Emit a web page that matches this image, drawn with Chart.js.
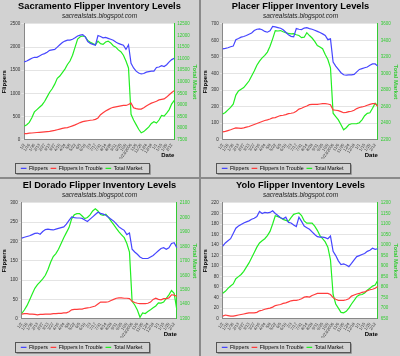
<!DOCTYPE html>
<html><head><meta charset="utf-8">
<script src="https://cdn.jsdelivr.net/npm/chart.js@4/dist/chart.umd.min.js"></script>
<style>
html,body{margin:0;padding:0;background:#8a8a8a;}
body{width:400px;height:356px;position:relative;overflow:hidden;}
.p{position:absolute;width:199px;height:177px;background:#d2d2d2;}
canvas{display:block;}
</style></head><body>
<div class="p" style="left:0;top:0"><canvas id="c0" width="199" height="177"></canvas></div>
<div class="p" style="left:201px;top:0"><canvas id="c1" width="199" height="177"></canvas></div>
<div class="p" style="left:0;top:179px"><canvas id="c2" width="199" height="177"></canvas></div>
<div class="p" style="left:201px;top:179px"><canvas id="c3" width="199" height="177"></canvas></div>
<script>
const dateLabels = ['1/2','1/9','1/16','1/23','1/30','2/6','2/13','2/20','2/27','3/6','3/13','3/20','3/27','4/3','4/10','4/17','4/24','5/1','5/8','5/15','5/22','5/29','6/5','6/12','6/19','6/26','7/3','7/10','7/17','7/24','7/31','8/7','8/14','8/21','8/28','9/4','9/11','9/18','9/25','10/2','10/9','10/16','10/23/2006','10/30','11/6','11/13','11/20','11/27','12/4','12/11','12/18','12/25','1/1','1/8','1/15','1/22','1/29','2/5','2/12','2/19'];
const seriesNames = ['Flippers','Flippers In Trouble','Total Market'];

const sacFlippers = [1680,1700,1730,1760,1780,1780,1810,1840,1860,1890,1930,1940,1950,2000,2050,2100,2130,2150,2150,2170,2200,2240,2260,2270,2220,2120,2080,2060,2040,2250,2230,2200,2210,2190,2170,2150,2110,2080,2060,2040,1950,2050,1650,1550,1480,1440,1420,1430,1460,1470,1480,1480,1560,1570,1600,1580,1620,1680,1730,1760];
const sacTrouble = [130,130,140,145,150,155,160,165,170,175,180,190,200,215,230,245,255,260,280,300,320,345,370,390,400,410,420,425,440,470,540,580,620,650,680,700,710,720,730,740,740,760,790,690,670,660,660,690,730,760,790,810,830,860,870,880,920,970,1020,1060];
const sacMarket = [8080,8150,8250,8450,8700,8800,8900,9000,9150,9350,9550,9700,9900,10150,10250,10400,10550,10750,10900,11150,11500,11850,11950,11980,11950,11780,11710,11650,11600,11760,11650,11620,11720,11760,11680,11560,11500,11380,11300,11150,10900,10600,8600,8350,8150,7950,7800,7850,7950,8050,8200,8280,8220,8350,8550,8520,8650,8800,9050,9200];

const plaFlippers = [549,552,556,562,566,605,612,620,624,630,638,645,660,668,670,665,655,650,658,685,682,678,674,665,650,635,625,622,672,668,666,675,678,672,668,662,655,648,640,630,605,610,470,445,425,405,393,390,392,392,395,410,425,430,435,440,450,458,458,445];
const plaTrouble = [47,50,55,60,66,71,70,69,72,76,80,86,92,98,104,110,116,120,125,132,134,140,146,148,152,158,160,163,172,185,190,198,204,212,214,214,214,216,218,218,216,212,180,178,176,170,163,165,170,172,178,188,195,198,202,208,214,218,218,202];
const plaMarket = [2510,2530,2560,2590,2630,2740,2790,2810,2830,2870,2910,2970,3030,3100,3150,3190,3220,3260,3330,3420,3520,3515,3520,3505,3495,3485,3480,3482,3470,3460,3435,3440,3495,3460,3430,3390,3340,3320,3300,3230,3170,3070,2520,2480,2440,2380,2320,2345,2380,2393,2393,2395,2405,2440,2490,2519,2525,2580,2640,2610];

const eldFlippers = [209,211,213,215,218,221,222,219,226,231,232,231,230,232,234,236,238,245,255,264,262,261,261,260,256,252,258,264,270,276,273,271,268,263,258,253,246,238,233,229,218,222,180,173,167,160,156,156,156,160,164,170,176,182,184,180,184,195,197,184];
const eldTrouble = [12,13,13,12,12,11,10,11,11,12,12,12,13,13,14,14,15,15,18,23,24,24,25,25,27,28,29,31,33,38,43,43,43,44,47,50,53,54,54,53,53,52,45,42,40,39,39,39,40,43,50,53,50,49,52,52,54,62,61,58];
const eldMarket = [1336,1360,1390,1430,1470,1510,1535,1555,1575,1600,1640,1690,1730,1750,1780,1820,1860,1895,1930,1990,2018,2026,2026,2010,1992,2000,2018,2045,2060,2045,2020,2015,2022,2000,1975,1950,1925,1900,1880,1860,1820,1760,1420,1395,1360,1310,1340,1336,1350,1362,1375,1388,1410,1408,1415,1440,1465,1495,1475,1363];

const yolFlippers = [138,144,148,152,162,172,176,179,182,184,186,189,191,194,204,200,202,201,202,205,200,196,192,190,193,183,182,178,175,193,185,176,173,170,165,160,156,155,155,154,152,157,128,120,110,103,104,102,99,105,112,118,120,122,124,128,130,134,132,133];
const yolTrouble = [5,7,6,5,5,6,7,8,9,10,11,11,11,12,15,16,18,19,20,22,25,26,27,29,30,32,34,35,35,36,38,41,42,41,44,46,48,48,48,48,48,46,40,37,35,35,35,36,38,43,45,47,48,50,51,53,55,56,58,61];
const yolMarket = [771,780,794,805,815,840,850,860,875,895,915,940,965,990,1010,1020,1030,1045,1065,1100,1139,1135,1130,1122,1117,1113,1130,1146,1150,1153,1140,1115,1104,1104,1104,1090,1070,1045,1030,1015,990,930,765,720,700,680,678,685,700,720,737,755,763,765,772,785,795,805,810,833];

const panelTitles = ['Sacramento Flipper Inventory Levels','Placer Flipper Inventory Levels','El Dorado Flipper Inventory Levels','Yolo Flipper Inventory Levels'];
const leftTicks = [[0,2500,500],[0,700,100],[0,300,50],[0,220,20]];
const rightTicks = [[7500,12500,500],[2200,3600,200],[1300,2100,100],[650,1200,50]];
const panelData = [[sacFlippers,sacTrouble,sacMarket],[plaFlippers,plaTrouble,plaMarket],[eldFlippers,eldTrouble,eldMarket],[yolFlippers,yolTrouble,yolMarket]];

const colors = ['#4646ff','#ff3c3c','#22ee22'];
const green = '#33cc33';
Chart.defaults.font.family = "'Liberation Sans', Arial, sans-serif";

const bgPlugin = {
  id:'bg',
  afterLayout(chart){
    const lg = chart.legend;
    if(lg){ lg.left += 17; lg.right += 17; lg.top += 4; lg.bottom += 4; }
  },
  beforeDraw(chart){
    const {ctx, chartArea:a} = chart;
    ctx.save();
    ctx.fillStyle = '#d2d2d2';
    ctx.fillRect(0,0,chart.width,chart.height);
    ctx.fillStyle = '#ffffff';
    ctx.fillRect(a.left,a.top,a.right-a.left,a.bottom-a.top);
    ctx.restore();
  },
  afterDraw(chart){
    const lg = chart.legend;
    if(!lg || !lg.legendHitBoxes || !lg.legendHitBoxes.length) return;
    let x0=1e9,y0=1e9,x1=-1e9,y1=-1e9;
    lg.legendHitBoxes.forEach(b=>{x0=Math.min(x0,b.left);y0=Math.min(y0,b.top);x1=Math.max(x1,b.left+b.width);y1=Math.max(y1,b.top+b.height);});
    const ctx = chart.ctx;
    const L=Math.round(x0-6)+0.5, T=Math.round(y0-3)+0.5, R=Math.round(x1+6)+0.5, B=Math.round(y1+2)+0.5;
    ctx.save();
    ctx.strokeStyle='#555';ctx.lineWidth=1;
    ctx.strokeRect(L,T,R-L,B-T);
    ctx.strokeStyle='#999';
    ctx.beginPath();
    ctx.moveTo(L+1,B+1);ctx.lineTo(R+1,B+1);ctx.lineTo(R+1,T+1);
    ctx.stroke();
    ctx.restore();
  }
};

function makeChart(idx){
  const [lmin,lmax,lstep] = leftTicks[idx];
  const [rmin,rmax,rstep] = rightTicks[idx];
  const d = panelData[idx];
  new Chart(document.getElementById('c'+idx), {
    type:'line',
    data:{
      labels: dateLabels,
      datasets: seriesNames.map((n,i)=>({
        label:n, data:d[i], borderColor:colors[i], backgroundColor:colors[i],
        borderWidth:1.2, pointRadius:0, tension:0, yAxisID: i===2?'y1':'y'
      }))
    },
    options:{
      responsive:false, animation:false, maintainAspectRatio:false,
      layout:{padding:{left:1,right:1,top:1,bottom:0}},
      plugins:{
        title:{display:true,text:panelTitles[idx],color:'#000',font:{size:9.3,weight:'bold'},padding:{top:0,bottom:0}},
        subtitle:{display:true,text:'sacrealstats.blogspot.com',color:'#222',font:{size:6.5,style:'italic'},padding:{top:0,bottom:4}},
        legend:{position:'bottom',align:'start',
          labels:{usePointStyle:true,pointStyle:'line',boxWidth:8,boxHeight:4,padding:3,color:'#000',font:{size:5.3}}},
        tooltip:{enabled:false}
      },
      scales:{
        x:{
          afterFit(scale){ scale.height = 19; },
          grid:{display:false,drawTicks:true,tickLength:3},
          border:{color:'#888'},
          ticks:{autoSkip:false,minRotation:55,maxRotation:55,padding:0,color:'#333',font:{size:4.2},
            callback:function(v,i){return i%2===0?this.getLabelForValue(v):'';}},
          title:{display:true,text:'Date',align:'end',color:'#000',font:{size:6,weight:'bold'},padding:{top:0,bottom:0}}
        },
        y:{
          position:'left',min:lmin,max:lmax,
          grid:{color:'#e4e4e4',tickLength:3},
          border:{color:'#888'},
          ticks:{stepSize:lstep,color:'#333',font:{size:4.5},padding:1,callback:v=>String(v)},
          title:{display:true,text:'Flippers',color:'#000',font:{size:6,weight:'bold'},padding:{top:0,bottom:1}}
        },
        y1:{
          position:'right',min:rmin,max:rmax,
          grid:{display:false,drawOnChartArea:false,tickLength:2,color:green},
          border:{color:green},
          ticks:{stepSize:rstep,color:green,font:{size:4.5},padding:1,callback:v=>String(v)},
          title:{display:true,text:'Total Market',color:green,font:{size:6,weight:'bold'},padding:{top:0,bottom:0}}
        }
      }
    },
    plugins:[bgPlugin]
  });
}
[0,1,2,3].forEach(makeChart);
</script>
</body></html>
